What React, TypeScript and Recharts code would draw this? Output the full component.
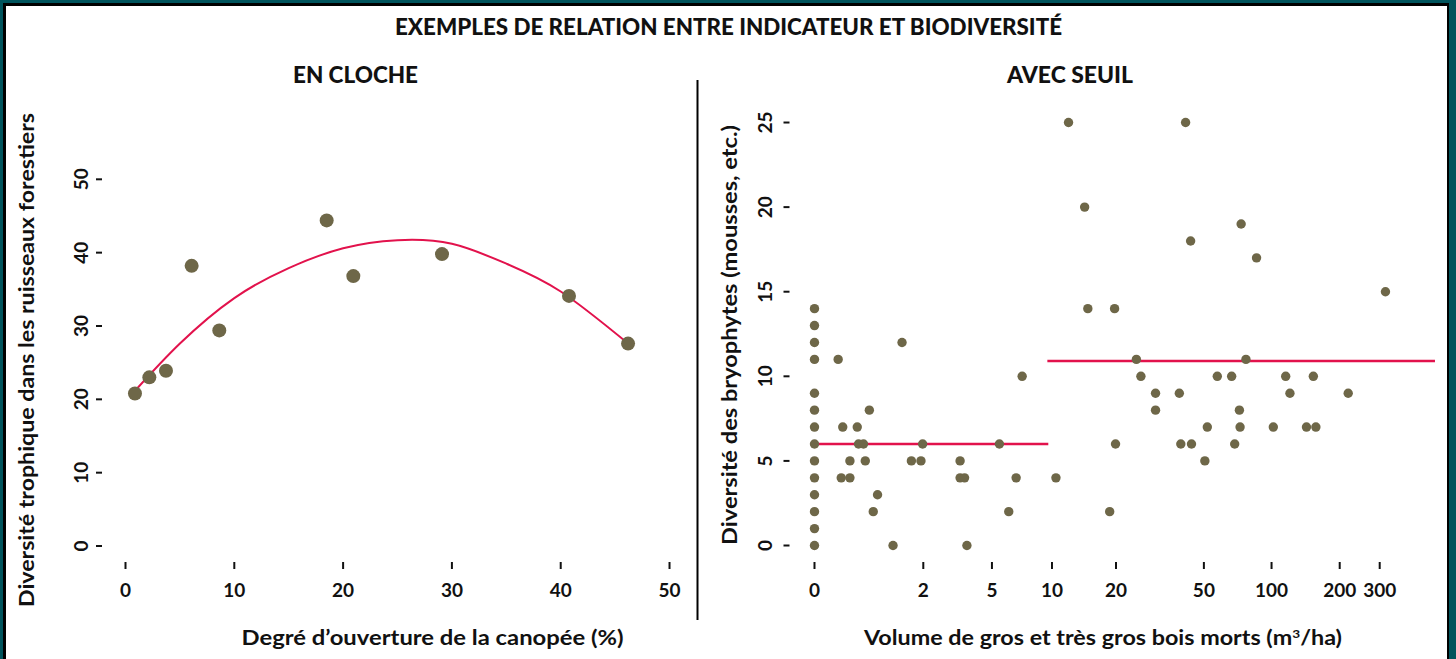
import React from "react";
import {
  ComposedChart,
  Scatter,
  Line,
  XAxis,
  YAxis,
  ReferenceLine,
} from "recharts";

// ---------- Data: left panel "EN CLOCHE" ----------
const canopyOpening = [0.87, 2.19, 3.72, 6.08, 8.62, 18.49, 20.94, 29.09, 40.76, 46.19];
const trophicDiversity = [20.8, 23.0, 23.9, 38.2, 29.4, 44.4, 36.8, 39.8, 34.1, 27.6];
const bellFitX = [0.9, 5, 10, 15, 20, 25, 30, 35, 40, 46.2];
const bellFitY = [21.2, 27.6, 33.8, 37.9, 40.6, 41.7, 41.2, 38.5, 34.7, 27.6];
const leftXTicks = [0, 10, 20, 30, 40, 50];
const leftYTicks = [0, 10, 20, 30, 40, 50];

// ---------- Data: right panel "AVEC SEUIL" ----------
const deadwoodVolume = [
  0, 0, 0, 0, 0, 0, 0, 0, 0, 0, 0, 0, 0, 0,
  0.27, 0.33, 0.54, 0.56, 0.64, 0.43, 0.67, 0.31, 0.43, 0.74, 0.89, 0.81,
  1.42, 1.21, 1.66, 1.93, 1.98, 3.35, 3.35, 3.55, 3.66, 5.47, 6.11, 6.66, 7.14,
  10.45, 12, 14.3, 14.8, 19.7, 19.9, 18.7,
  41.4, 73.3, 43.6, 85.8, 318, 24.8, 77, 26, 57.4, 66.5, 115.5, 153,
  30.3, 38.8, 120.6, 218, 30.3, 72, 51.8, 72.5, 101.8, 142.7, 157,
  39.4, 44, 68.6, 50.5,
];
const bryophyteDiversity = [
  14, 13, 12, 11, 9, 8, 7, 6, 5, 4, 3, 2, 1, 0,
  11, 7, 7, 6, 6, 5, 5, 4, 4, 8, 3, 2,
  12, 0, 5, 5, 6, 5, 4, 4, 0, 6, 2, 4, 10,
  4, 25, 20, 14, 14, 6, 2,
  25, 19, 18, 17, 15, 11, 11, 10, 10, 10, 10, 10,
  9, 9, 9, 9, 8, 8, 7, 7, 7, 7, 7,
  6, 6, 6, 5,
];
// threshold segments: [fromVolume, toVolume, level]
const seuilBelow = [0, 9.6, 6.0];
const seuilAbove = [9.5, 525, 10.9];
const rightXTicks = [0, 2, 5, 10, 20, 50, 100, 200, 300];
const rightYTicks = [0, 5, 10, 15, 20, 25];

// ---------- Styles ----------
const FONT = "Lato, 'Open Sans', sans-serif";
const POINT = "#6e6748";
const RED = "#e2124c";
const INK = "#111111";

const tr = (v: number) => Math.log10(v + 1);

const leftPoints = canopyOpening.map((x, i) => ({ x, y: trophicDiversity[i] }));
const leftCurve = bellFitX.map((x, i) => ({ x, fit: bellFitY[i] }));
const rightPoints = deadwoodVolume.map((v, i) => ({ x: tr(v), y: bryophyteDiversity[i] }));

const XTick = (props: any) => {
  const { x, y, payload, fmt } = props;
  return (
    <text
      x={x}
      y={y + 14}
      textAnchor="middle"
      fontFamily={FONT}
      fontWeight={700}
      fontSize={19}
      fill={INK}
    >
      {fmt ? fmt(payload.value) : payload.value}
    </text>
  );
};

const YTick = (props: any) => {
  const { x, y, payload } = props;
  return (
    <text
      x={x}
      y={y}
      transform={`rotate(-90 ${x} ${y})`}
      textAnchor="middle"
      fontFamily={FONT}
      fontWeight={700}
      fontSize={19}
      fill={INK}
    >
      {payload.value}
    </text>
  );
};

const dot = (r: number) => (p: any) =>
  <circle cx={p.cx} cy={p.cy} r={r} fill={POINT} />;

const invLabel = (t: number) => {
  const v = Math.round(Math.pow(10, t) - 1);
  return String(v);
};

export default function App() {
  return (
    <div
      style={{
        position: "absolute",
        left: 0,
        top: 0,
        width: 1456,
        height: 659,
        overflow: "hidden",
        background: "#00545c",
      }}
    >
      <div
        style={{
          position: "absolute",
          left: 3,
          top: 3,
          width: 1441,
          height: 700,
          background: "#ffffff",
          borderTop: "3px solid #000",
          borderLeft: "3px solid #000",
          borderRight: "2px solid #000",
        }}
      />

      {/* Left chart */}
      <div style={{ position: "absolute", left: 0, top: 0 }}>
        <ComposedChart
          width={698}
          height={659}
          margin={{ top: 110, right: 17.6, bottom: 0, left: 0 }}
        >
          <XAxis
            type="number"
            dataKey="x"
            domain={[-2.16, 51]}
            allowDataOverflow
            ticks={leftXTicks}
            interval={0}
            axisLine={false}
            tickSize={7}
            tickMargin={14}
            tickLine={{ stroke: INK, strokeWidth: 2 }}
            height={97}
            tick={<XTick />}
          />
          <YAxis
            type="number"
            domain={[-2.18, 59.45]}
            allowDataOverflow
            ticks={leftYTicks}
            interval={0}
            axisLine={false}
            tickSize={6}
            tickMargin={8}
            tickLine={{ stroke: INK, strokeWidth: 2 }}
            width={102}
            tick={<YTick />}
          />
          <Line
            data={leftCurve}
            dataKey="fit"
            type="natural"
            stroke={RED}
            strokeWidth={2}
            dot={false}
            isAnimationActive={false}
          />
          <Scatter
            data={leftPoints}
            dataKey="y"
            shape={dot(7)}
            isAnimationActive={false}
          />
        </ComposedChart>
      </div>

      {/* Right chart */}
      <div style={{ position: "absolute", left: 698, top: 0 }}>
        <ComposedChart
          width={758}
          height={659}
          margin={{ top: 110, right: 16, bottom: 0, left: 0 }}
        >
          <XAxis
            type="number"
            dataKey="x"
            domain={[-0.1096, 2.743]}
            allowDataOverflow
            ticks={rightXTicks.map(tr)}
            interval={0}
            axisLine={false}
            tickSize={7}
            tickMargin={14}
            tickLine={{ stroke: INK, strokeWidth: 2 }}
            height={97}
            tick={<XTick fmt={invLabel} />}
          />
          <YAxis
            type="number"
            domain={[-0.975, 25.74]}
            allowDataOverflow
            ticks={rightYTicks}
            interval={0}
            axisLine={false}
            tickSize={6}
            tickMargin={11.5}
            tickLine={{ stroke: INK, strokeWidth: 2 }}
            width={91.5}
            tick={<YTick />}
          />
          <ReferenceLine
            segment={[
              { x: tr(seuilBelow[0]), y: seuilBelow[2] },
              { x: tr(seuilBelow[1]), y: seuilBelow[2] },
            ]}
            stroke={RED}
            strokeWidth={2.5}
          />
          <ReferenceLine
            segment={[
              { x: tr(seuilAbove[0]), y: seuilAbove[2] },
              { x: tr(seuilAbove[1]), y: seuilAbove[2] },
            ]}
            stroke={RED}
            strokeWidth={2.5}
          />
          <Scatter
            data={rightPoints}
            dataKey="y"
            shape={dot(4.7)}
            isAnimationActive={false}
          />
        </ComposedChart>
      </div>

      {/* Titles, axis titles, divider */}
      <svg
        width={1456}
        height={659}
        style={{ position: "absolute", left: 0, top: 0, pointerEvents: "none" }}
      >
        <g fontFamily={FONT} fill={INK}>
          <text x={728.5} y={35} textAnchor="middle" fontWeight={900} fontSize={22}
            textLength={667} lengthAdjust="spacingAndGlyphs">
            EXEMPLES DE RELATION ENTRE INDICATEUR ET BIODIVERSITÉ
          </text>
          <text x={355.5} y={83} textAnchor="middle" fontWeight={900} fontSize={22}
            textLength={125} lengthAdjust="spacingAndGlyphs">
            EN CLOCHE
          </text>
          <text x={1070} y={83} textAnchor="middle" fontWeight={900} fontSize={22}
            textLength={126} lengthAdjust="spacingAndGlyphs">
            AVEC SEUIL
          </text>
          <text x={432.5} y={645} textAnchor="middle" fontWeight={700} fontSize={20.5}
            textLength={382} lengthAdjust="spacingAndGlyphs">
            Degré d’ouverture de la canopée (%)
          </text>
          <text x={1103} y={645} textAnchor="middle" fontWeight={700} fontSize={20.5}
            textLength={478} lengthAdjust="spacingAndGlyphs">
            Volume de gros et très gros bois morts (m
            <tspan dy={-7} fontSize={12}>3</tspan>
            <tspan dy={7}>/ha)</tspan>
          </text>
          <text
            x={34}
            y={360}
            transform="rotate(-90 34 360)"
            textAnchor="middle"
            fontWeight={700}
            fontSize={20.5}
            textLength={494}
            lengthAdjust="spacingAndGlyphs"
          >
            Diversité trophique dans les ruisseaux forestiers
          </text>
          <text
            x={737}
            y={335}
            transform="rotate(-90 737 335)"
            textAnchor="middle"
            fontWeight={700}
            fontSize={20.5}
            textLength={420}
            lengthAdjust="spacingAndGlyphs"
          >
            Diversité des bryophytes (mousses, etc.)
          </text>
        </g>
        <line x1={697.5} y1={80} x2={697.5} y2={620} stroke="#000" strokeWidth={2} />
      </svg>
    </div>
  );
}
